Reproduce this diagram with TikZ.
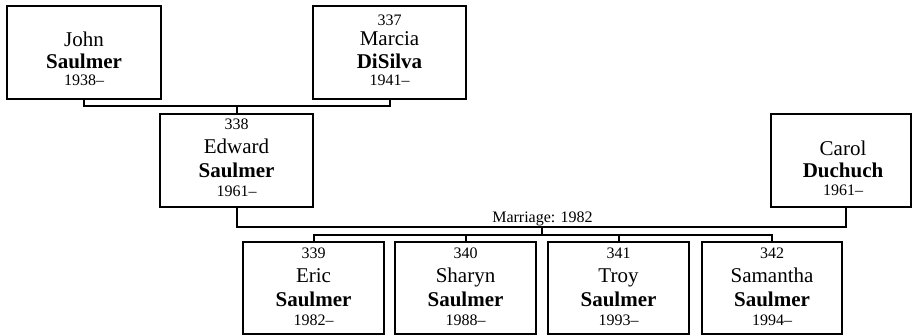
\documentclass[tikz,border=0pt]{standalone}
\usepackage{fontspec}
\setmainfont{Liberation Serif}
\begin{document}
\begin{tikzpicture}[x=1pt,y=-1pt,
  pbox/.style={draw=black, line width=2pt, inner sep=0pt, minimum height=93pt},
  cbox/.style={draw=black, line width=2pt, inner sep=0pt, minimum height=92pt},
  numtxt/.style={font=\fontsize{16}{16}\selectfont, anchor=base, inner sep=0pt},
  nametxt/.style={font=\fontsize{21}{21}\selectfont, anchor=base, inner sep=0pt},
  surtxt/.style={font=\fontsize{21}{21}\selectfont\bfseries, anchor=base, inner sep=0pt},
  conn/.style={draw=black, line width=2pt}]
\useasboundingbox (0,0) rectangle (912,335);

% boxes
\node[pbox, minimum width=154pt] (john) at (84,52.5) {};
\node[pbox, minimum width=153pt] (marcia) at (389.5,52.5) {};
\node[pbox, minimum width=153pt] (edward) at (236.5,160.5) {};
\node[pbox, minimum width=140pt] (carol) at (841,160.5) {};
\node[cbox, minimum width=141pt] (eric) at (313.5,288) {};
\node[cbox, minimum width=141pt] (sharyn) at (465.5,288) {};
\node[cbox, minimum width=141pt] (troy) at (618.5,288) {};
\node[cbox, minimum width=140pt] (samantha) at (772,288) {};

% texts
\node[nametxt] (john1) at (84,46) {John};
\node[surtxt] (john2) at (84,68) {Saulmer};
\node[numtxt] (john3) at (84,85) {1938–};

\node[numtxt] (marcia0) at (389.5,25) {337};
\node[nametxt] (marcia1) at (389.5,45.5) {Marcia};
\node[surtxt] (marcia2) at (389.5,68) {DiSilva};
\node[numtxt] (marcia3) at (389.5,85) {1941–};

\node[numtxt] (edward0) at (236.5,129) {338};
\node[nametxt] (edward1) at (236.5,153) {Edward};
\node[surtxt] (edward2) at (236.5,177) {Saulmer};
\node[numtxt] (edward3) at (236.5,196) {1961–};

\node[nametxt] (carol1) at (843,155) {Carol};
\node[surtxt] (carol2) at (843,177) {Duchuch};
\node[numtxt] (carol3) at (843,195.5) {1961–};

\node[numtxt] (eric0) at (313.5,258) {339};
\node[nametxt] (eric1) at (313.5,282) {Eric};
\node[surtxt] (eric2) at (313.5,306) {Saulmer};
\node[numtxt] (eric3) at (313.5,325) {1982–};

\node[numtxt] (sharyn0) at (465.5,258) {340};
\node[nametxt] (sharyn1) at (465.5,282) {Sharyn};
\node[surtxt] (sharyn2) at (465.5,306) {Saulmer};
\node[numtxt] (sharyn3) at (465.5,325) {1988–};

\node[numtxt] (troy0) at (618.5,258) {341};
\node[nametxt] (troy1) at (618.5,282) {Troy};
\node[surtxt] (troy2) at (618.5,306) {Saulmer};
\node[numtxt] (troy3) at (618.5,325) {1993–};

\node[numtxt] (samantha0) at (772,258) {342};
\node[nametxt] (samantha1) at (772,282) {Samantha};
\node[surtxt] (samantha2) at (772,306) {Saulmer};
\node[numtxt] (samantha3) at (772,325) {1994–};

% marriage label
\node[numtxt] (marr) at (542.5,222.5) {Marriage: 1982};

% connectors: John + Marcia -> Edward
\coordinate (jm) at (237,106);
\draw[conn] (john.south) |- (jm) -| (marcia.south);
\draw[conn] (jm) -- (edward.north -| jm);

% Edward + Carol -> children
\coordinate (ec) at (542,227);
\coordinate (carolc) at ([xshift=76pt]carol.south west);
\coordinate (edwardc) at ([xshift=0.5pt]edward.south);
\draw[conn] (edwardc) |- (ec) -| (carolc);
\coordinate (kids) at (542,235);
\draw[conn] (ec) -- (kids);
\draw[conn] (eric.north) |- (kids) -| (samantha.north);
\draw[conn] (sharyn.north) -- (sharyn.north |- kids);
\draw[conn] (troy.north) -- (troy.north |- kids);
\end{tikzpicture}
\end{document}
